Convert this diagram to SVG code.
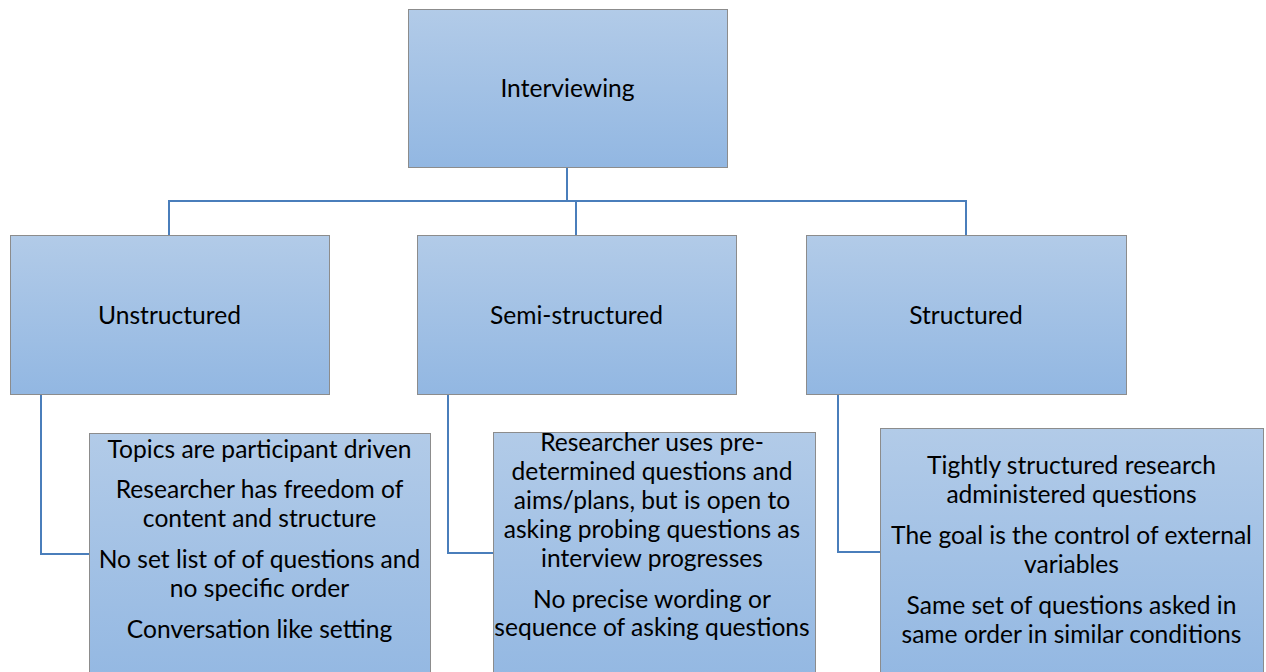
<svg xmlns="http://www.w3.org/2000/svg" width="1266" height="672" viewBox="0 0 1266 672">
<style>
.box{stroke:#8c8c8c;stroke-width:1;}
.t{font-family:Lato,"Liberation Sans",sans-serif;font-size:24.6px;fill:#000;text-anchor:middle;}
.c{fill:none;stroke:#4a7ebb;stroke-width:2;}
</style>
<defs>
<linearGradient id="g" x1="0" y1="0" x2="0" y2="1">
<stop offset="0" stop-color="#b2cbe8"/>
<stop offset="1" stop-color="#92b7e2"/>
</linearGradient>
</defs>
<rect width="1266" height="672" fill="#fff"/>
<g id="connectors">
<path class="c" d="M567,167 V201 M169,235 V201 H966 V235 M576,201 V235"/>
<path class="c" d="M41,394 V554 H89"/>
<path class="c" d="M448,394 V553 H493"/>
<path class="c" d="M838,394 V552 H880"/>
</g>
<g id="interviewing">
<rect class="box" x="408.5" y="9.5" width="319" height="158" fill="url(#g)"/>
<text class="t" x="567.5" y="97">Interviewing</text>
</g>
<g id="unstructured">
<rect class="box" x="10.5" y="235.5" width="319" height="159" fill="url(#g)"/>
<text class="t" x="169.5" y="324">Unstructured</text>
</g>
<g id="semi-structured">
<rect class="box" x="417.5" y="235.5" width="319" height="159" fill="url(#g)"/>
<text class="t" x="576.5" y="324">Semi-structured</text>
</g>
<g id="structured">
<rect class="box" x="806.5" y="235.5" width="320" height="159" fill="url(#g)"/>
<text class="t" x="966" y="324">Structured</text>
</g>
<g id="unstructured-detail">
<rect class="box" x="89.5" y="433.5" width="341" height="260" fill="url(#g)"/>
<text class="t" x="259.5" y="458">Topics are participant driven</text>
<text class="t" x="259.5" y="498">Researcher has freedom of</text>
<text class="t" x="259.5" y="527">content and structure</text>
<text class="t" x="259.5" y="568">No set list of of questions and</text>
<text class="t" x="259.5" y="597">no specific order</text>
<text class="t" x="259.5" y="638">Conversation like setting</text>
</g>
<g id="semi-structured-detail">
<rect class="box" x="493.5" y="432.5" width="322" height="260" fill="url(#g)"/>
<text class="t" x="652" y="451">Researcher uses pre-</text>
<text class="t" x="652" y="480">determined questions and</text>
<text class="t" x="652" y="509">aims/plans, but is open to</text>
<text class="t" x="652" y="538">asking probing questions as</text>
<text class="t" x="652" y="567">interview progresses</text>
<text class="t" x="652" y="608">No precise wording or</text>
<text class="t" x="652" y="636">sequence of asking questions</text>
</g>
<g id="structured-detail">
<rect class="box" x="880.5" y="428.5" width="383" height="260" fill="url(#g)"/>
<text class="t" x="1071.5" y="474">Tightly structured research</text>
<text class="t" x="1071.5" y="503">administered questions</text>
<text class="t" x="1071.5" y="544">The goal is the control of external</text>
<text class="t" x="1071.5" y="573">variables</text>
<text class="t" x="1071.5" y="614">Same set of questions asked in</text>
<text class="t" x="1071.5" y="643">same order in similar conditions</text>
</g>
</svg>
